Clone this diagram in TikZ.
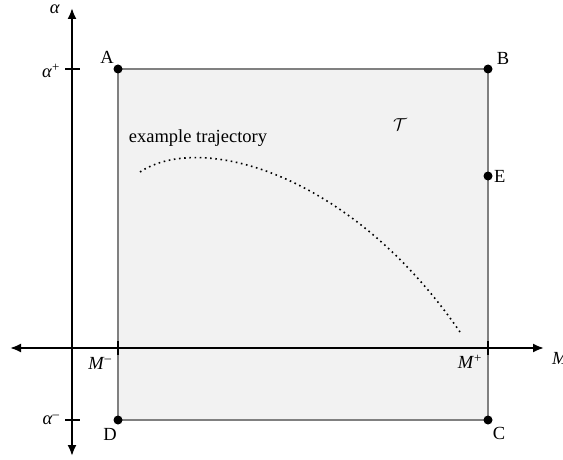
\documentclass[tikz,border=0pt]{standalone}
\usepackage{fontspec}
\setmainfont{Liberation Serif}
\usetikzlibrary{arrows.meta}
\begin{document}
\begin{tikzpicture}[x=1pt,y=-1pt,
  axis/.style={line width=2pt,-{Latex[length=11pt,width=9pt]}},
  tick/.style={line width=2pt},
  dot/.style={circle,fill=black,inner sep=0pt,minimum size=9pt},
  lbl/.style={font=\fontsize{18.5}{20}\selectfont,inner sep=0pt}]
\useasboundingbox (0,0) rectangle (563,460);
\coordinate (A) at (118,69);
\coordinate (B) at (488,69);
\coordinate (C) at (488,420);
\coordinate (D) at (118,420);
\coordinate (E) at (488,176);
\filldraw[fill=black!5,draw=black!50,line width=1.6pt] (A) -- (B) -- (C) -- (D) -- cycle;
% axes
\coordinate (O) at (72,348);
\coordinate (ytop) at (72,8);
\coordinate (ybot) at (72,456);
\coordinate (xl) at (10,348);
\coordinate (xr) at (544,348);
\draw[axis] (O) -- (ytop);
\draw[axis] (O) -- (ybot);
\draw[axis] (O) -- (xl);
\draw[axis] (O) -- (xr);
% ticks
\draw[tick] (65,69) -- (80,69);
\draw[tick] (65,420) -- (80,420);
\draw[tick] (118,341) -- (118,355);
\draw[tick] (488,341) -- (488,355);
% points
\node[dot] (pA) at (A) {};
\node[dot] (pB) at (B) {};
\node[dot] (pC) at (C) {};
\node[dot] (pD) at (D) {};
\node[dot] (pE) at (E) {};
\node[lbl] (lA) at (107,57) {A};
\node[lbl] (lB) at (503,58) {B};
\node[lbl] (lC) at (499,433) {C};
\node[lbl] (lD) at (110,434) {D};
\node[lbl,anchor=west] (lE) at (494,176) {E};
% axis labels
\node[lbl] (alpha) at (55,9) {\textit{α}};
\node[lbl] (ap) at (51,71) {\textit{α}\textsuperscript{+}};
\node[lbl] (am) at (51,420) {\textit{α}\textsuperscript{–}};
\node[lbl] (mm) at (100,363) {\textit{M}\textsuperscript{–}};
\node[lbl] (mp) at (470,362) {\textit{M}\textsuperscript{+}};
\node[lbl,anchor=west] (mlab) at (552,358) {\textit{M}};
\node[lbl] (T) at (400,125) {$\mathcal{T}$};
\node[lbl] (ex) at (198,138) {example trajectory};
% trajectory
\draw[line width=1.6pt,dash pattern=on 1.6pt off 3.6pt] (140,172) .. controls (200,132) and (350,172) .. (460,332);
\end{tikzpicture}
\end{document}
